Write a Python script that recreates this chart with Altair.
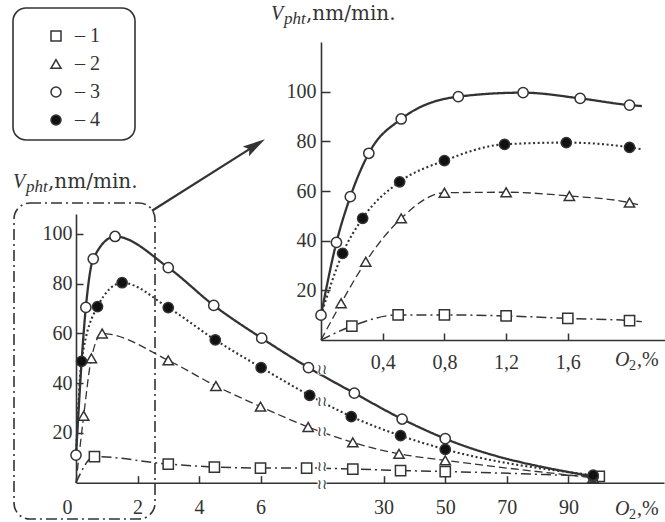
import altair as alt
import pandas as pd

SERIES = ["1", "2", "3", "4"]
INK = "#333333"

# ---------------- main panel: O2 0..100 %, broken x axis ----------------
main_s1_x = [0, 0.6, 3.0, 4.5, 6.0, 7.5, 20, 35.5, 50, 100]
main_s1_y = [0, 10.5, 7.5, 6.3, 5.9, 5.9, 5.5, 4.9, 4.5, 2.5]
main_s1_m = [0, 1, 1, 1, 1, 1, 1, 1, 1, 1]

main_s2_x = [0, 0.25, 0.5, 0.85, 3.0, 4.55, 6.0, 7.55, 20, 35, 50, 98]
main_s2_y = [0, 26.9, 50, 60, 49.2, 38.9, 30.6, 22.4, 16.2, 11.6, 9, 2]
main_s2_m = [0, 1, 1, 1, 1, 1, 1, 1, 1, 1, 1, 1]

main_s3_x = [0, 0.32, 0.56, 1.27, 3.0, 4.48, 6.04, 7.56, 20.5, 36, 50, 98]
main_s3_y = [11.1, 70.5, 90, 99, 86.5, 71.3, 58.1, 46.3, 36, 25.6, 17.7, 2.5]
main_s3_m = [1, 1, 1, 1, 1, 1, 1, 1, 1, 1, 1, 1]

main_s4_x = [0, 0.18, 0.7, 1.5, 3.0, 4.53, 6.02, 7.6, 19.5, 35.5, 50, 98]
main_s4_y = [11.1, 48.8, 70.8, 80.4, 70.4, 57.4, 46.3, 35.1, 26.6, 18.9, 13.4, 3]
main_s4_m = [0, 1, 1, 1, 1, 1, 1, 1, 1, 1, 1, 1]

main_x_ticks = [0, 2, 4, 6, 30, 50, 70, 90]
main_y_ticks = [20, 40, 60, 80, 100]
break_x = 9
break_y = [45.3, 32.5, 20.5, 6.2, -1]

# ---------------- inset panel: O2 0..2 % ----------------
inset_s1_x = [0, 0.2, 0.5, 0.8, 1.2, 1.6, 2.0, 2.08]
inset_s1_y = [0, 5.6, 10.1, 10.1, 9.7, 8.7, 7.8, 7.4]
inset_s1_m = [0, 1, 1, 1, 1, 1, 1, 0]

inset_s2_x = [0, 0.13, 0.29, 0.52, 0.8, 1.2, 1.61, 2.0, 2.08]
inset_s2_y = [0, 14.8, 31.5, 49, 59.3, 59.5, 58, 55.3, 54.1]
inset_s2_m = [0, 1, 1, 1, 1, 1, 1, 1, 0]

inset_s3_x = [0, 0.1, 0.19, 0.31, 0.52, 0.89, 1.31, 1.68, 2.0, 2.08]
inset_s3_y = [10, 39.3, 57.7, 75.2, 89, 98, 99.6, 97.3, 94.6, 94.2]
inset_s3_m = [1, 1, 1, 1, 1, 1, 1, 1, 1, 0]

inset_s4_x = [0, 0.14, 0.27, 0.51, 0.8, 1.19, 1.59, 2.0, 2.08]
inset_s4_y = [10, 34.9, 49, 63.7, 72.2, 78.8, 79.5, 77.6, 76.8]
inset_s4_m = [0, 1, 1, 1, 1, 1, 1, 1, 0]

inset_x_ticks = [0.4, 0.8, 1.2, 1.6]
inset_y_ticks = [20, 40, 60, 80, 100]


def frame(parts):
    rows = []
    for s, xs, ys, ms in parts:
        for x, y, m in zip(xs, ys, ms):
            rows.append({"series": s, "x": x, "y": y, "marked": bool(m)})
    return pd.DataFrame(rows)


main_df = frame([("1", main_s1_x, main_s1_y, main_s1_m),
                 ("2", main_s2_x, main_s2_y, main_s2_m),
                 ("3", main_s3_x, main_s3_y, main_s3_m),
                 ("4", main_s4_x, main_s4_y, main_s4_m)])
inset_df = frame([("1", inset_s1_x, inset_s1_y, inset_s1_m),
                  ("2", inset_s2_x, inset_s2_y, inset_s2_m),
                  ("3", inset_s3_x, inset_s3_y, inset_s3_m),
                  ("4", inset_s4_x, inset_s4_y, inset_s4_m)])
break_df = pd.DataFrame({"x": [break_x] * len(break_y), "y": break_y})

W, H = 665, 522

main_x_scale = alt.Scale(domain=[0, 8, 10, 121], range=[76, 322, 322, 664], nice=False, zero=False)
main_y_scale = alt.Scale(domain=[0, 108], range=[482.7, 214.1], nice=False, zero=False)
inset_x_scale = alt.Scale(domain=[0, 2.23], range=[321, 665], nice=False, zero=False)
inset_y_scale = alt.Scale(domain=[0, 120], range=[340, 42], nice=False, zero=False)

lab = dict(domainColor=INK, domainWidth=1.6, labelFont="Liberation Serif", labelFontSize=20,
           labelColor=INK, grid=False, title=None, ticks=False, tickSize=0,
           labelOverlap=False, labelFlush=False)
tck = dict(labels=False, domain=False, ticks=True, tickColor=INK, tickWidth=1.5,
           grid=False, title=None)

main_x_lab = alt.Axis(orient="bottom", offset=482.7 - H, values=main_x_ticks, labelPadding=15,
                      labelOffset={"condition": {"test": "datum.value === 0", "value": -9}, "value": 0},
                      **lab)
main_x_tck = alt.Axis(orient="top", offset=-482.7, values=main_x_ticks[1:], tickSize=7, **tck)
main_y_lab = alt.Axis(orient="left", offset=-76, values=main_y_ticks, labelPadding=4, **lab)
main_y_tck = alt.Axis(orient="right", offset=76 - W, values=main_y_ticks, tickSize=7, **tck)

inset_x_lab = alt.Axis(orient="bottom", offset=340 - H, values=inset_x_ticks, labelPadding=12,
                       labelExpr="replace(format(datum.value, '.1f'), '.', ',')", **lab)
inset_x_tck = alt.Axis(orient="top", offset=-340, values=inset_x_ticks, tickSize=7, **tck)
inset_y_lab = alt.Axis(orient="left", offset=-321, values=inset_y_ticks, labelPadding=5, **lab)
inset_y_tck = alt.Axis(orient="right", offset=321 - W, values=inset_y_ticks, tickSize=9, **tck)

legend = alt.Legend(orient="none", legendX=13, legendY=8, title=None, padding=18,
                    labelFont="Liberation Serif", labelFontSize=20, labelColor=INK,
                    labelExpr="'\u2013 ' + datum.label",
                    symbolSize=100, symbolStrokeWidth=1.5, symbolStrokeColor=INK,
                    symbolOffset=15, labelOffset=9, rowPadding=8, symbolOpacity=1)

shape_scale = alt.Scale(domain=SERIES, range=["square", "triangle-up", "circle", "circle"])
fill_scale = alt.Scale(domain=SERIES, range=["white", "white", "white", "#111111"])
stroke_scale = alt.Scale(domain=SERIES, range=[INK, INK, INK, INK])

styles = {"1": ([10, 4, 2, 4], 1.5), "2": ([8, 4], 1.3), "3": ([1, 0], 2.3), "4": ([2, 2.6], 2.1)}


def lines(df, xs, ys, xax, yax):
    out = []
    for i, s in enumerate(SERIES):
        dash, w = styles[s]
        out.append(
            alt.Chart(df).transform_filter(alt.datum.series == s)
            .mark_line(interpolate="monotone", color=INK, strokeDash=dash, strokeWidth=w)
            .encode(x=alt.X("x:Q", scale=xs, axis=xax if i == 0 else None),
                    y=alt.Y("y:Q", scale=ys, axis=yax if i == 0 else None),
                    order="x:Q")
        )
    return out


def points(df, xs, ys, xax, yax):
    return (alt.Chart(df).transform_filter("datum.marked")
            .mark_point(filled=True, size=105, strokeWidth=1.5, opacity=1)
            .encode(x=alt.X("x:Q", scale=xs, axis=xax),
                    y=alt.Y("y:Q", scale=ys, axis=yax),
                    shape=alt.Shape("series:N", scale=shape_scale, legend=legend),
                    fill=alt.Fill("series:N", scale=fill_scale, legend=legend),
                    stroke=alt.Stroke("series:N", scale=stroke_scale, legend=legend)))


def text(t, x, y, size, font="Liberation Serif", style="normal"):
    return (alt.Chart(alt.Data(values=[{}]))
            .mark_text(text=t, align="left", baseline="alphabetic", font=font,
                       fontSize=size, fontStyle=style, color=INK)
            .encode(x=alt.value(x), y=alt.value(y)))


one = alt.Data(values=[{}])
legend_box = (alt.Chart(one)
              .mark_rect(fill="white", stroke=INK, strokeWidth=1.6, cornerRadius=13)
              .encode(x=alt.value(13), x2=alt.value(135), y=alt.value(8), y2=alt.value(140)))
zoom_box = (alt.Chart(one)
            .mark_rect(fill="white", fillOpacity=0, stroke=INK, strokeWidth=1.6,
                       strokeDash=[11, 4, 2, 4], cornerRadius=16)
            .encode(x=alt.value(14), x2=alt.value(155), y=alt.value(203), y2=alt.value(519)))
arrow_line = (alt.Chart(one).mark_rule(color=INK, strokeWidth=2.2)
              .encode(x=alt.value(152), y=alt.value(210.7), x2=alt.value(255), y2=alt.value(145.6)))
arrow_head = (alt.Chart(one)
              .mark_point(shape="M0,-1L0.42,0.65L0,0.35L-0.42,0.65Z", filled=True, color=INK,
                          size=750, angle=57.8, opacity=1)
              .encode(x=alt.value(253.4), y=alt.value(146.6)))

masks = (alt.Chart(break_df)
         .mark_point(shape="square", filled=True, color="white", size=80, opacity=1)
         .encode(x=alt.X("x:Q", scale=main_x_scale, axis=None),
                 y=alt.Y("y:Q", scale=main_y_scale, axis=None)))
breaks = (alt.Chart(break_df)
          .mark_text(text="\u2240\u2240", font="DejaVu Sans", fontSize=14, color=INK)
          .encode(x=alt.X("x:Q", scale=main_x_scale, axis=None),
                  y=alt.Y("y:Q", scale=main_y_scale, axis=None)))

main_group = alt.layer(
    legend_box, zoom_box, arrow_line, arrow_head,
    *lines(main_df, main_x_scale, main_y_scale, main_x_lab, main_y_lab),
    masks, breaks,
    points(main_df, main_x_scale, main_y_scale, main_x_tck, main_y_tck),
).resolve_axis(x="independent", y="independent")

inset_group = alt.layer(
    *lines(inset_df, inset_x_scale, inset_y_scale, inset_x_lab, inset_y_lab),
    points(inset_df, inset_x_scale, inset_y_scale, inset_x_tck, inset_y_tck),
).resolve_axis(x="independent", y="independent")

titles = alt.layer(
    text("V", 13, 188, 20, style="italic"),
    text("pht", 26, 192, 17, style="italic"),
    text(",nm/min.", 48, 188, 20, font="DejaVu Serif"),
    text("V", 271, 20, 20, style="italic"),
    text("pht", 284, 24, 17, style="italic"),
    text(",nm/min.", 306, 20, 20, font="DejaVu Serif"),
    text("O", 615, 515, 20, style="italic"),
    text("2", 629, 519, 14),
    text(",%", 637, 515, 20),
    text("O", 615, 366, 20, style="italic"),
    text("2", 629, 370, 14),
    text(",%", 637, 366, 20),
)

chart = (
    alt.layer(main_group, inset_group, titles)
    .resolve_scale(x="independent", y="independent")
    .properties(width=W, height=H, autosize=alt.AutoSizeParams(type="none"), padding=0,
                background="white")
    .configure_view(strokeWidth=0)
)

chart.save("out.html", embed_options={"renderer": "svg", "actions": False})
